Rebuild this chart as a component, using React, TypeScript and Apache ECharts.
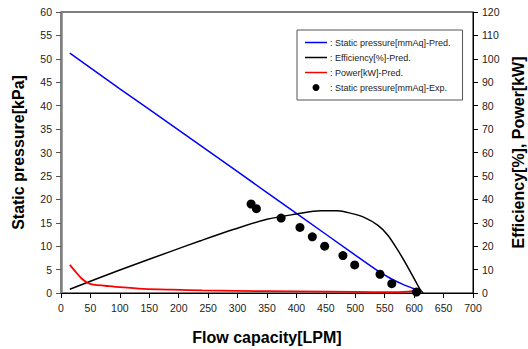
import React, { useEffect, useRef } from "react";
import * as echarts from "echarts";

// Static pressure [kPa] - predicted (left axis)
const pressureFlow = [15, 100, 200, 300, 400, 500, 540, 560, 580, 600, 609];
const pressurePred = [51.2, 43.6, 34.8, 25.9, 17.0, 8.1, 4.6, 3.1, 1.9, 0.9, 0.4];

// Efficiency [%] - predicted (right axis)
const effFlow = [15, 100, 188, 237, 294, 350, 400, 441, 470, 493, 515, 538, 555, 572, 589, 609, 615];
const effPred = [1.6, 9.8, 17.9, 22.3, 27.2, 31.5, 33.7, 35.1, 35.1, 34.0, 32.3, 29.0, 24.8, 18.4, 11.2, 2.0, 0];

// Power [kW] - predicted (right axis)
const powerFlow = [15, 25, 35, 45, 55, 75, 100, 140, 190, 240, 300, 400, 500, 560, 590, 605, 612];
const powerPred = [12.0, 9.0, 6.2, 4.4, 3.6, 3.1, 2.5, 1.8, 1.4, 1.1, 0.9, 0.7, 0.5, 0.35, 0.6, 1.0, 0.4];

// Static pressure - experiment (left axis)
const expFlow = [323, 332, 374, 406, 427, 448, 479, 499, 542, 562, 604];
const expPressure = [19, 18, 16, 14, 12, 10, 8, 6, 4, 2, 0.2];

const legendNames = [
  "Static pressure[mmAq]-Pred.",
  "Efficiency[%]-Pred.",
  "Power[kW]-Pred.",
  "Static pressure[mmAq]-Exp.",
];

const FONT = "Liberation Sans, Arial, sans-serif";
const LINE_ICON = "path://M0,0L22,0L22,1.5L0,1.5Z";

function zip(xs: number[], ys: number[]) {
  return xs.map((x, i) => [x, ys[i]]);
}

export default function App() {
  const ref = useRef<HTMLDivElement>(null);
  useEffect(() => {
    if (!ref.current) return;
    const chart = echarts.init(ref.current, undefined, { renderer: "svg" });
    const tickLabel = { color: "#222", fontSize: 10.5, fontFamily: FONT };
    const nameStyle = { color: "#000", fontSize: 16, fontWeight: "bold" as const, fontFamily: FONT };
    chart.setOption({
      animation: false,
      grid: {
        left: 61,
        right: 55,
        top: 12,
        bottom: 56,
        outerBoundsMode: "none",
        containLabel: false,
        show: true,
        borderColor: "#000",
        borderWidth: 1,
        backgroundColor: "transparent",
      },
      legend: {
        orient: "vertical",
        left: 297,
        top: 30,
        backgroundColor: "#fff",
        borderColor: "#555",
        borderWidth: 1,
        borderRadius: 0,
        padding: [8, 12, 8, 8],
        itemWidth: 22,
        itemHeight: 7,
        itemGap: 6,
        data: [
          { name: legendNames[0], icon: LINE_ICON },
          { name: legendNames[1], icon: LINE_ICON },
          { name: legendNames[2], icon: LINE_ICON },
          { name: legendNames[3], icon: "circle" },
        ],
        formatter: (n: string) => ": " + n,
        textStyle: { fontSize: 9, color: "#222", fontFamily: FONT, padding: [0, 0, 0, -2] },
      },
      xAxis: {
        type: "value",
        min: 0,
        max: 700,
        interval: 50,
        name: "Flow capacity[LPM]",
        nameLocation: "middle",
        nameGap: 36,
        nameTextStyle: nameStyle,
        axisLine: { show: true, lineStyle: { color: "#000", width: 1 } },
        axisTick: { show: true, inside: false, length: 5, lineStyle: { color: "#000" } },
        axisLabel: { ...tickLabel, margin: 9 },
        splitLine: { show: false },
      },
      yAxis: [
        {
          type: "value",
          min: 0,
          max: 60,
          interval: 5,
          position: "left",
          name: "Static pressure[kPa]",
          nameLocation: "middle",
          nameGap: 35,
          nameTextStyle: nameStyle,
          axisLine: { show: true, lineStyle: { color: "#808080", width: 2.5 } },
          axisTick: { show: true, inside: false, length: 5, lineStyle: { color: "#555" } },
          axisLabel: { ...tickLabel, margin: 9 },
          splitLine: { show: false },
        },
        {
          type: "value",
          min: 0,
          max: 120,
          interval: 10,
          position: "right",
          name: "Efficiency[%], Power[kW]",
          nameLocation: "middle",
          nameGap: 37,
          nameRotate: 90,
          nameTextStyle: nameStyle,
          axisLine: { show: true, lineStyle: { color: "#000", width: 1 } },
          axisTick: { show: true, inside: false, length: 5, lineStyle: { color: "#000" } },
          axisLabel: { ...tickLabel, margin: 9 },
          splitLine: { show: false },
        },
      ],
      series: [
        {
          name: legendNames[0],
          type: "line",
          yAxisIndex: 0,
          data: zip(pressureFlow, pressurePred),
          symbol: "none",
          smooth: 0.3,
          lineStyle: { color: "#0000ff", width: 1.5 },
          itemStyle: { color: "#0000ff" },
          z: 3,
        },
        {
          name: legendNames[1],
          type: "line",
          yAxisIndex: 1,
          data: zip(effFlow, effPred),
          symbol: "none",
          smooth: 0.3,
          lineStyle: { color: "#000", width: 1.5 },
          itemStyle: { color: "#000" },
          z: 3,
        },
        {
          name: legendNames[2],
          type: "line",
          yAxisIndex: 1,
          data: zip(powerFlow, powerPred),
          symbol: "none",
          smooth: 0.3,
          lineStyle: { color: "#ff0000", width: 1.8 },
          itemStyle: { color: "#ff0000" },
          z: 3,
        },
        {
          name: legendNames[3],
          type: "scatter",
          yAxisIndex: 0,
          data: zip(expFlow, expPressure),
          symbol: "circle",
          symbolSize: 9,
          itemStyle: { color: "#000", opacity: 1 },
          z: 4,
        },
      ],
    });
    return () => chart.dispose();
  }, []);
  return <div ref={ref} style={{ width: 528, height: 349, position: "absolute", left: 0, top: 0 }} />;
}
